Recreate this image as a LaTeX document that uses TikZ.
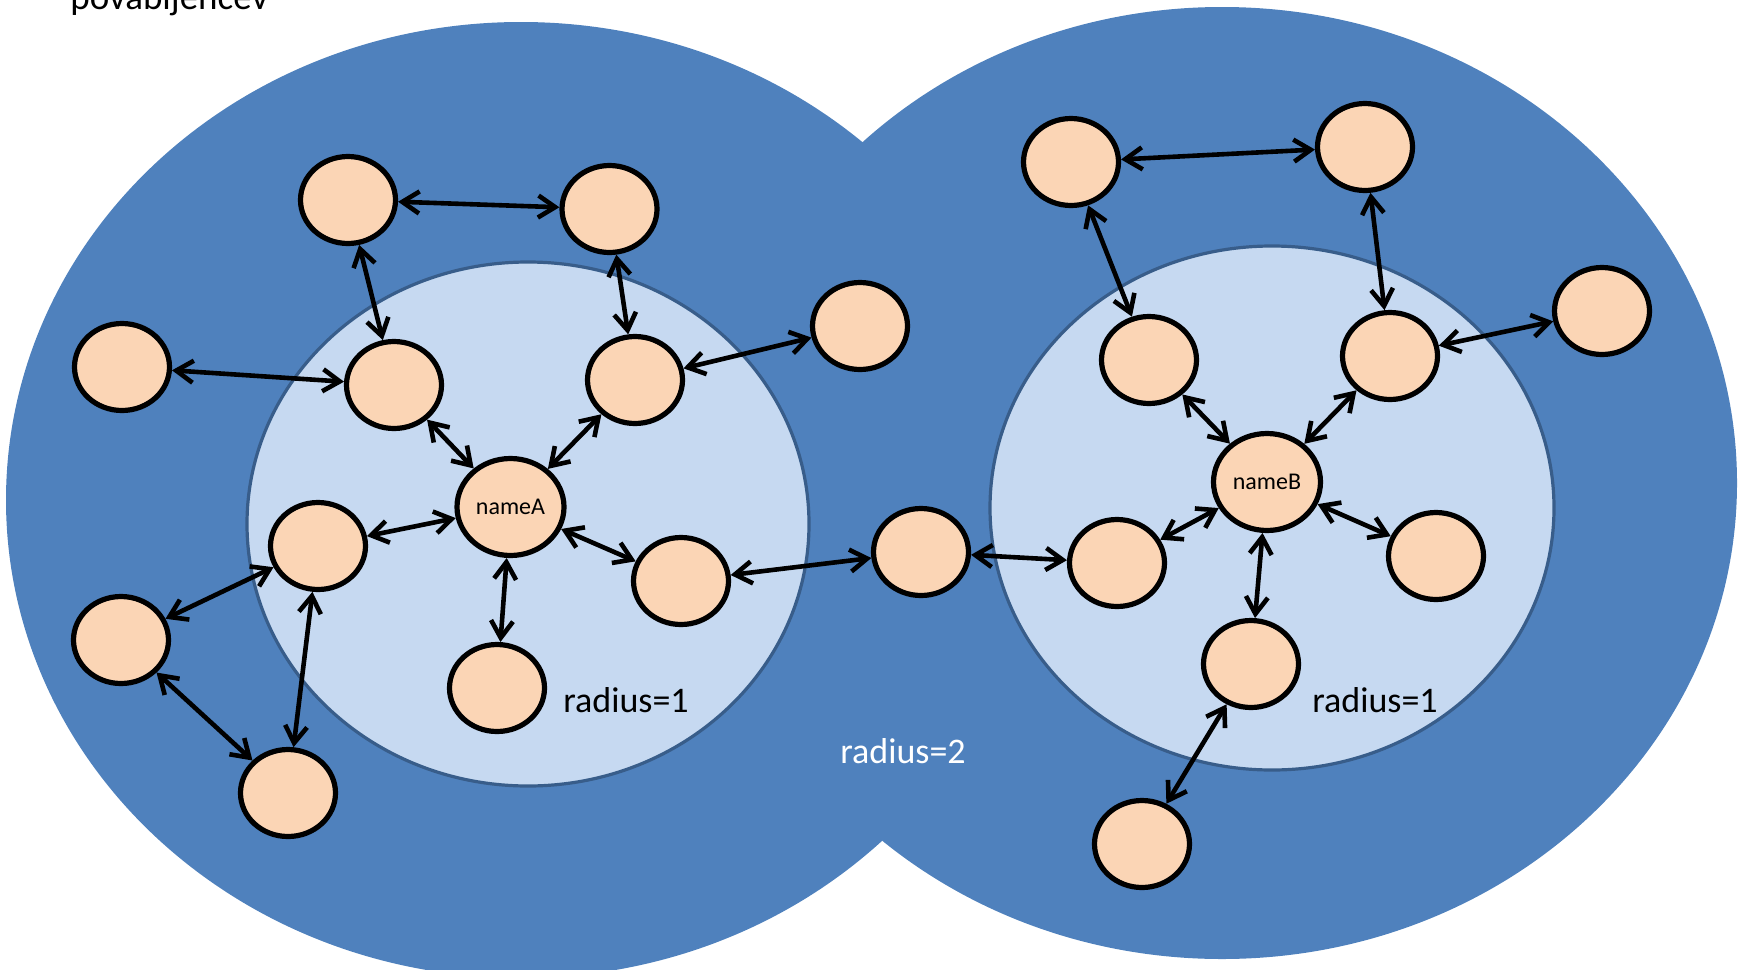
\documentclass[tikz,border=0pt]{standalone}
\usepackage{fontspec}
\setmainfont{Carlito}
\usetikzlibrary{arrows.meta,shapes.geometric}
\definecolor{outerblue}{HTML}{4F81BD}
\definecolor{innerblue}{HTML}{C6D9F1}
\definecolor{innerline}{HTML}{385D8A}
\definecolor{peer}{HTML}{FBD5B5}

\begin{document}
\begin{tikzpicture}[x=0.5pt,y=-0.5pt,
  peernode/.style={ellipse, draw=black, line width=2.6pt, fill=peer,
    minimum width=47.5pt, minimum height=43.5pt, inner sep=0pt},
  centrenode/.style={peernode, minimum width=53.5pt, minimum height=48.5pt,
    font=\fontsize{12}{14}\selectfont},
  link/.style={{Straight Barb[length=8.5pt,width=11pt]}-{Straight Barb[length=8.5pt,width=11pt]},
    line width=2.3pt},
  radiuslabel/.style={font=\fontsize{18}{21}\selectfont, inner sep=0pt}]
\useasboundingbox (0,0) rectangle (1744,969);
\clip (0,0) rectangle (1744,969);

% neighbourhoods of radius 2
\fill[outerblue] (521,500) ellipse [x radius=257.5pt, y radius=239pt];
\fill[outerblue] (1222,483) ellipse [x radius=257.5pt, y radius=238pt];

% neighbourhoods of radius 1
\filldraw[fill=innerblue, draw=innerline, line width=1.6pt]
  (528,524) ellipse [x radius=140.5pt, y radius=131pt];
\filldraw[fill=innerblue, draw=innerline, line width=1.6pt]
  (1272,508) ellipse [x radius=141pt, y radius=131pt];

% caption fragment at the top
\node[anchor=base west, inner sep=0pt, font=\fontsize{18.5}{21}\selectfont]
  (caption) at (70,9.5) {povabljencev};

% peers around nameA
\node[centrenode] (nameA) at (510.5,507) {nameA};
\node[peernode] (a1) at (348,200) {};
\node[peernode] (a2) at (609.5,209) {};
\node[peernode] (a3) at (860,326) {};
\node[peernode] (a4) at (122,367) {};
\node[peernode] (a5) at (394,385) {};
\node[peernode] (a6) at (635,380) {};
\node[peernode] (a7) at (318,546) {};
\node[peernode] (a8) at (681,581) {};
\node[peernode] (a9) at (497,688) {};
\node[peernode] (a10) at (121,640) {};
\node[peernode] (a11) at (288,793) {};
\node[peernode] (mid) at (921,552) {};

% peers around nameB
\node[centrenode] (nameB) at (1267,482) {nameB};
\node[peernode] (b1) at (1071,162) {};
\node[peernode] (b2) at (1365,147) {};
\node[peernode] (b3) at (1602,311) {};
\node[peernode] (b4) at (1149,360) {};
\node[peernode] (b5) at (1390,356) {};
\node[peernode] (b6) at (1117,563) {};
\node[peernode] (b7) at (1436,556) {};
\node[peernode] (b8) at (1251,664) {};
\node[peernode] (b9) at (1142,844) {};

% links
\foreach \p/\q in {a1/a2, a1/a5, a2/a6, a3/a6, a4/a5,
                   a5/nameA, a6/nameA, a7/nameA, a8/nameA, a9/nameA,
                   a7/a10, a7/a11, a10/a11, a8/mid, mid/b6,
                   b6/nameB, b4/nameB, b5/nameB, b7/nameB, b8/nameB,
                   b8/b9, b1/b2, b1/b4, b2/b5, b3/b5}
  \draw[link] (\p) -- (\q);

% radius labels
\node[radiuslabel] (rA) at (626,700) {radius=1};
\node[radiuslabel] (rB) at (1375,700) {radius=1};
\node[radiuslabel, text=white] (r2) at (903,751) {radius=2};
\end{tikzpicture}
\end{document}
